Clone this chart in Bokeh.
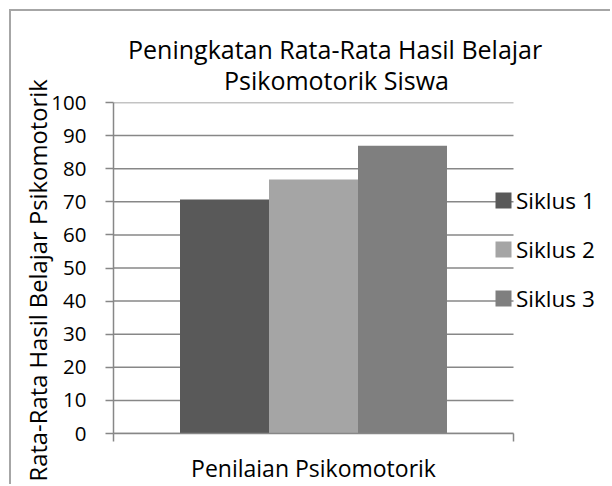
from bokeh.plotting import figure
from bokeh.models import (Range1d, FixedTicker, Title, Legend, LegendItem, LinearAxis,
                          CustomLabelingPolicy)
from bokeh.embed import file_html
from bokeh.resources import INLINE

# ---- data ----
title_lines = ["Peningkatan Rata-Rata Hasil Belajar", "Psikomotorik Siswa"]
category_label = "Penilaian Psikomotorik"
y_label = "Rata-Rata Hasil Belajar Psikomotorik"
series = ["Siklus 1", "Siklus 2", "Siklus 3"]
values = [70.7, 76.7, 86.9]
colors = ["#595959", "#a5a5a5", "#7f7f7f"]
y_ticks = [0, 10, 20, 30, 40, 50, 60, 70, 80, 90, 100]

FONT = "Open Sans"
GRID = "#878787"

p = figure(width=601, height=475, output_backend="svg", toolbar_location=None,
           x_range=Range1d(0, 1.2475), y_range=Range1d(0, 100),
           min_border_left=102, min_border_right=0,
           min_border_top=91, min_border_bottom=51)
p.styles = {"margin-left": "9px", "margin-top": "9px",
            "border-left": "2px solid #a6a6a6", "border-top": "2px solid #a6a6a6"}
p.outline_line_color = None
p.background_fill_color = "white"
p.border_fill_color = "white"

# gridlines spanning the category band only
p.segment(x0=[0] * len(y_ticks), x1=[1] * len(y_ticks), y0=y_ticks, y1=y_ticks,
          line_color=GRID, line_width=1.5)

bar_w = 0.2225
items = []
for i, (name, v, c) in enumerate(zip(series, values, colors)):
    r = p.vbar(x=[0.5 + (i - 1) * bar_w], top=[v], width=bar_w,
               fill_color=c, line_color=None)
    items.append(LegendItem(label=name, renderers=[r]))

# titles (line 2 first so line 1 ends up on top)
for txt, off, so in [(title_lines[1], 110.5, 10.4), (title_lines[0], 14.5, -18.6)]:
    p.add_layout(Title(text=txt, align="left", offset=off, standoff=so,
                       text_font=FONT, text_font_size="25px",
                       text_font_style="normal", text_color="black"), "above")

# y axis
ya = p.yaxis[0]
ya.ticker = FixedTicker(ticks=y_ticks)
ya.minor_tick_line_color = None
ya.major_tick_out = 8
ya.major_tick_in = 0
ya.major_tick_line_color = GRID
ya.major_tick_line_width = 1.5
ya.axis_line_color = GRID
ya.axis_line_width = 1.5
ya.major_label_standoff = 19
ya.major_label_text_font = FONT
ya.major_label_text_font_size = "20.5px"
ya.major_label_text_color = "black"
# trailing no-break spaces nudge the centred title slightly downward
ya.axis_label = y_label + "\u00a0" * 4
ya.axis_label_text_font = FONT
ya.axis_label_text_font_size = "23.8px"
ya.axis_label_text_font_style = "normal"
ya.axis_label_text_color = "black"
ya.axis_label_standoff = -6

# x axis (ticks at category band edges, no labels)
xa = p.xaxis[0]
xa.ticker = FixedTicker(ticks=[0, 1])
xa.bounds = (0, 1)
xa.minor_tick_line_color = None
xa.major_tick_out = 8
xa.major_tick_in = 0
xa.major_tick_line_color = GRID
xa.major_tick_line_width = 1.5
xa.axis_line_color = GRID
xa.axis_line_width = 1.5
xa.major_label_text_font_size = "0px"
xa.major_label_standoff = 0
xa.major_label_policy = CustomLabelingPolicy(code="""
for (const i of Array.from(indices)) { indices.unset(i) }
return indices
""")

# category label
ca = LinearAxis(ticker=FixedTicker(ticks=[0.5]),
                major_label_overrides={0.5: category_label},
                axis_line_color=None, major_tick_line_color=None,
                minor_tick_line_color=None, major_tick_out=0, major_tick_in=0,
                major_label_standoff=10, major_label_text_font=FONT,
                major_label_text_font_size="23px", major_label_text_color="black")
p.add_layout(ca, "below")

p.xgrid.visible = False
p.ygrid.visible = False

legend = Legend(items=items, location=(380, 119.5), padding=0, margin=0,
                border_line_color=None, background_fill_alpha=0,
                glyph_width=20, glyph_height=20, label_standoff=3,
                label_text_font=FONT, label_text_font_size="22.5px",
                label_text_color="black", spacing=18, label_height=20)
p.add_layout(legend)

open("out.html", "w").write(file_html(p, INLINE))
